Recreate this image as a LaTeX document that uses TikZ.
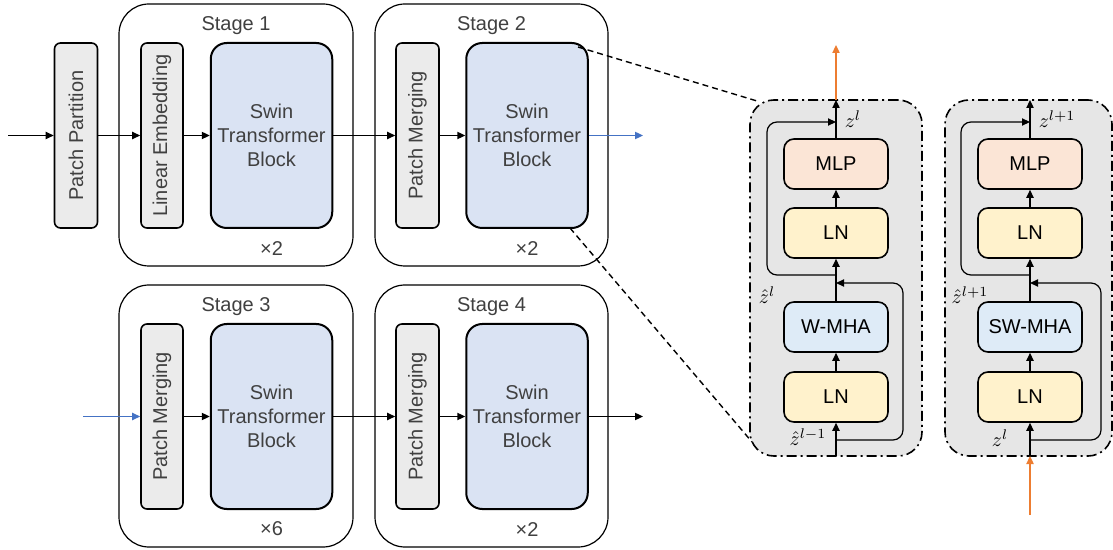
\documentclass[tikz,border=0pt]{standalone}
\usepackage[no-math]{fontspec}
\setmainfont{Liberation Sans}
\usepackage{tikz}
\usetikzlibrary{arrows.meta,calc}

\definecolor{patchgray}{HTML}{EBEBEB}
\definecolor{swinblue}{HTML}{DAE3F3}
\definecolor{mlppeach}{HTML}{FBE5D6}
\definecolor{lnyellow}{HTML}{FFF2CC}
\definecolor{mhablue}{HTML}{DEEBF7}
\definecolor{detailgray}{HTML}{E6E6E6}
\definecolor{flowblue}{HTML}{4472C4}
\definecolor{floworange}{HTML}{ED7D31}
\definecolor{labelgray}{HTML}{404040}

\begin{document}
\begin{tikzpicture}[x=0.5pt,y=-0.5pt,->,>={Triangle[length=4pt,width=3.6pt]},line width=0.8pt,
    font=\fontsize{10}{12}\selectfont,node distance=140.5pt,
    stagebox/.style={draw, line width=0.6pt, rounded corners=15pt, minimum width=117pt, minimum height=131pt},
    patchbox/.style={draw, fill=patchgray, rounded corners=3pt, rotate=90, minimum width=92.5pt, minimum height=21.5pt, text=labelgray},
    swinbox/.style={draw, fill=swinblue, line width=1pt, rounded corners=8pt, minimum width=57.5pt, minimum height=92.5pt, align=center, text=labelgray},
    detailbox/.style={draw, fill=detailgray, rounded corners=12pt, dash pattern=on 5pt off 2pt on 1pt off 2pt, minimum height=178pt},
    layer/.style={draw, rounded corners=5pt, minimum width=52pt, minimum height=25pt},
    title/.style={text=labelgray},
    mathlabel/.style={inner sep=1pt}]

    \useasboundingbox (0,0) rectangle (1113,550);

    % stage boxes
    \node[stagebox] (s1) at (236,135) {};
    \node[stagebox, minimum width=116.5pt] (s2) at (491.5,135) {};
    \node[stagebox, below of=s1] (s3) {};
    \node[stagebox, minimum width=116.5pt, below of=s2] (s4) {};

    \node[title, anchor=north, yshift=-3pt] at (s1.north) {Stage 1};
    \node[title, anchor=north, yshift=-3pt] at (s2.north) {Stage 2};
    \node[title, anchor=north, yshift=-3pt] at (s3.north) {Stage 3};
    \node[title, anchor=north, yshift=-3pt] at (s4.north) {Stage 4};

    %------------------------------------------------

    \node[patchbox] (pp) at (76,135.5)
    {Patch Partition};

    \node[patchbox, minimum height=21pt] (le) at (162,135.5)
    {Linear Embedding};

    \node[swinbox] (sw1) at (271.5,135.5)
    {Swin\\Transformer\\Block};

    \node[patchbox] (pm2) at (417.5,135.5)
    {Patch Merging};

    \node[swinbox, minimum width=57pt] (sw2) at (527,135.5)
    {Swin\\Transformer\\Block};

    %------------------------------------------------

    \node[patchbox, minimum height=21pt] (pm3) at (162,416.5)
    {Patch Merging};

    \node[swinbox, below of=sw1] (sw3)
    {Swin\\Transformer\\Block};

    \node[patchbox] (pm4) at (417.5,416.5)
    {Patch Merging};

    \node[swinbox, minimum width=57pt, below of=sw2] (sw4)
    {Swin\\Transformer\\Block};

    \node[title, anchor=south, yshift=2pt] at (sw1 |- s1.south) {×2};
    \node[title, anchor=south, yshift=2pt] at (sw2 |- s2.south) {×2};
    \node[title, anchor=south, yshift=2pt] at (sw3 |- s3.south) {×6};
    \node[title, anchor=south, yshift=2pt] at (sw4 |- s4.south) {×2};

    \coordinate (in1) at (8,135.5);
    \coordinate (out2) at (643,135.5);
    \coordinate (in3) at (83,416.5);
    \coordinate (out4) at (643,416.5);

    \path[]
    {
        (in1) edge (pp)
        (pp) edge (le)
        (le) edge (sw1)
        (sw1) edge (pm2)
        (pm2) edge (sw2)
        (sw2) edge[flowblue] (out2)

        (in3) edge[flowblue] (pm3)
        (pm3) edge (sw3)
        (sw3) edge (pm4)
        (pm4) edge (sw4)
        (sw4) edge (out4)
    };

    %------------------------------------------------
    % W-MSA block

    \node[detailbox, minimum width=86pt] (detA) at (836,278) {};

    \node[layer, fill=mlppeach] (mlpA) at (836,164) {MLP};
    \node[layer, fill=lnyellow] (lnA2) at (836,233) {LN};
    \node[layer, fill=mhablue] (mhaA) at (836,327) {W-MHA};
    \node[layer, fill=lnyellow] (lnA1) at (836,397) {LN};

    \coordinate (inA) at (836,456);
    \coordinate (outA) at (836,100);
    \coordinate (topA) at (836,45);
    \coordinate (skipA1) at (836,440);
    \coordinate (joinA1) at (836,283);
    \coordinate (skipA2) at (836,275);
    \coordinate (joinA2) at (836,122);

    \path[]
    {
        (inA) edge (lnA1)
        (lnA1) edge (mhaA)
        (mhaA) edge (lnA2)
        (lnA2) edge (mlpA)
        (mlpA) edge (outA)
        (outA) edge[floworange] (topA)
    };
    \draw[rounded corners=5pt, line width=0.6pt] (skipA1) -- ++(67,0) |- (joinA1);
    \draw[rounded corners=5pt, line width=0.6pt] (skipA2) -- ++(-69,0) |- (joinA2);

    \node[mathlabel, anchor=west] at (842,119) {$z^{l}$};
    \node[mathlabel] at (767,295) {$\hat{z}^{l}$};
    \node[mathlabel] at (808,437) {$\hat{z}^{l-1}$};

    %------------------------------------------------
    % SW-MSA block

    \node[detailbox, minimum width=83.5pt] (detB) at (1028.5,278) {};

    \node[layer, fill=mlppeach] (mlpB) at (1030,164) {MLP};
    \node[layer, fill=lnyellow] (lnB2) at (1030,233) {LN};
    \node[layer, fill=mhablue] (mhaB) at (1030,327) {SW-MHA};
    \node[layer, fill=lnyellow] (lnB1) at (1030,397) {LN};

    \coordinate (botB) at (1030,515);
    \coordinate (inB) at (1030,456);
    \coordinate (outB) at (1030,100);
    \coordinate (skipB1) at (1030,440);
    \coordinate (joinB1) at (1030,283);
    \coordinate (skipB2) at (1030,275);
    \coordinate (joinB2) at (1030,122);

    \path[]
    {
        (botB) edge[floworange] (inB)
        (inB) edge (lnB1)
        (lnB1) edge (mhaB)
        (mhaB) edge (lnB2)
        (lnB2) edge (mlpB)
        (mlpB) edge (outB)
    };
    \draw[rounded corners=5pt, line width=0.6pt] (skipB1) -- ++(71,0) |- (joinB1);
    \draw[rounded corners=5pt, line width=0.6pt] (skipB2) -- ++(-69,0) |- (joinB2);

    \node[mathlabel, anchor=west] at (1036,119) {$z^{l+1}$};
    \node[mathlabel] at (970,295) {$\hat{z}^{l+1}$};
    \node[mathlabel] at (1000,438) {$z^{l}$};

    %------------------------------------------------
    % zoom lines

    \coordinate (fromA) at (578,47);
    \coordinate (toA) at (757,101);
    \coordinate (fromB) at (570,228);
    \coordinate (toB) at (752,442);
    \draw[-, dash pattern=on 3pt off 2pt, line width=0.7pt] (fromA) -- (toA);
    \draw[-, dash pattern=on 3pt off 2pt, line width=0.7pt] (fromB) -- (toB);
\end{tikzpicture}
\end{document}
